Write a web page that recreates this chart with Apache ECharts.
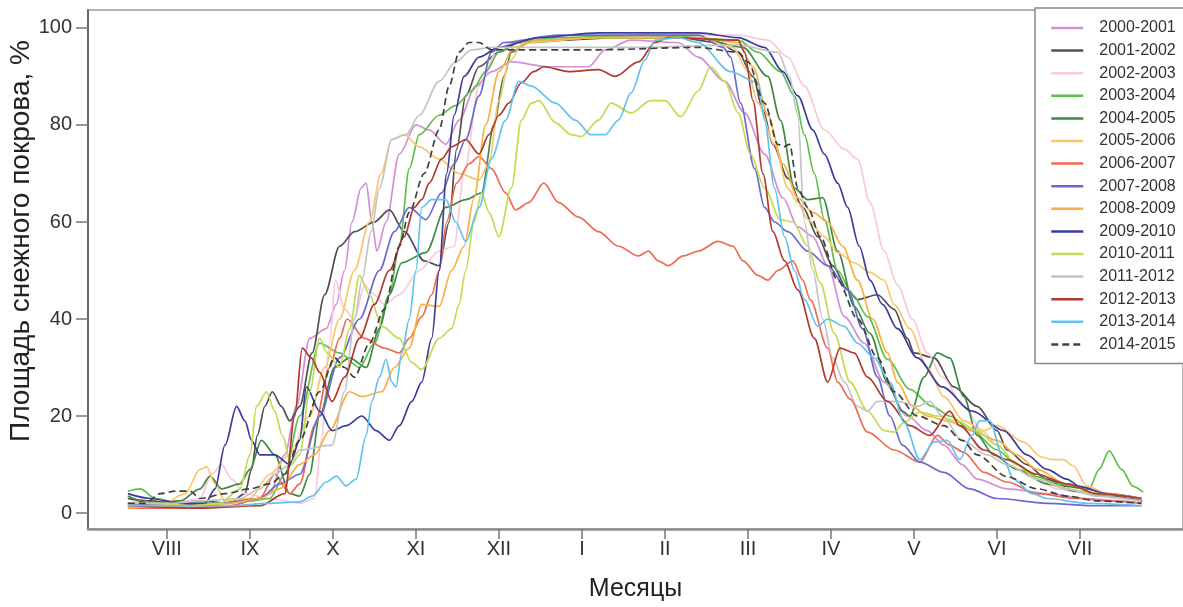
<!DOCTYPE html>
<html>
<head>
<meta charset="utf-8">
<script src="https://cdn.jsdelivr.net/npm/echarts@6/dist/echarts.min.js"></script>
<style>html,body{margin:0;padding:0;background:#fff;}#c{width:1183px;height:607px;}</style>
</head>
<body>
<div id="c"></div>
<script>
// x = month index (VIII = 0 ... VII = 11), y = snow cover area, %
const monthLabels = ['VIII','IX','X','XI','XII','I','II','III','IV','V','VI','VII'];
const monthTicks = [0,1,2,3,4,5,6,7,8,9,10,11];
const yTicks = [0,20,40,60,80,100];
const seasons = ['2000-2001','2001-2002','2002-2003','2003-2004','2004-2005','2005-2006','2006-2007','2007-2008','2008-2009','2009-2010','2010-2011','2011-2012','2012-2013','2013-2014','2014-2015'];

const s2000 = [[-0.47,3],[-0.20,2],[0.16,1.5],[0.64,2],[1.00,2.5],[1.24,4],[1.42,12],[1.56,22],[1.72,36],[1.92,38],[2.04,43],[2.14,50],[2.23,60],[2.34,67],[2.40,68],[2.47,60],[2.53,54],[2.64,60],[2.80,74],[3.00,80],[3.16,79],[3.36,76],[3.52,81],[3.72,88],[3.91,91],[4.15,93],[4.60,92],[5.08,92],[5.28,95.5],[5.59,97.5],[6.16,97],[6.40,94],[6.72,89],[6.96,82.5],[7.20,74],[7.42,65],[7.60,59],[7.78,57],[7.96,51],[8.16,40.5],[8.40,35],[8.64,27],[8.92,20],[9.16,17],[9.36,14],[9.58,10],[9.76,7],[10.12,5],[10.60,4],[11.08,3],[11.44,2.5],[11.74,2]];
const s2001 = [[-0.47,3],[-0.20,2.5],[0.10,2],[0.40,2.5],[0.76,2],[0.94,4],[1.02,9],[1.09,16],[1.18,22],[1.27,25],[1.38,22],[1.48,19],[1.60,22],[1.75,33],[1.90,45],[2.08,55],[2.26,58],[2.50,60],[2.68,62.5],[2.86,58],[3.10,52],[3.28,51],[3.40,60],[3.49,75],[3.60,86],[3.76,92],[4.00,95],[4.24,97],[4.72,97.5],[5.44,98],[6.16,98],[6.64,97],[6.88,95],[7.06,90],[7.18,83],[7.30,76],[7.48,69],[7.66,63],[7.84,57],[8.02,51],[8.20,46],[8.32,44],[8.56,45],[8.76,42],[8.92,36],[9.00,33],[9.24,32],[9.48,26],[9.76,22],[10.00,17],[10.12,13],[10.36,10],[10.60,7],[10.84,5.5],[11.08,5],[11.32,4],[11.74,3]];
const s2002 = [[-0.47,1.5],[0.04,2],[0.40,3],[0.54,8],[0.66,10],[0.78,7],[0.94,4],[1.24,3],[1.60,2],[1.78,3],[1.86,15],[1.96,35],[2.03,48],[2.14,42],[2.26,40],[2.38,47],[2.50,45],[2.62,43],[2.80,45],[3.04,50],[3.28,54],[3.46,55],[3.58,70],[3.76,88],[4.00,96],[4.24,97.5],[4.72,98],[5.80,98.5],[6.88,98.5],[7.24,97.5],[7.48,94],[7.68,88],[7.92,79],[8.16,75],[8.32,73],[8.47,64],[8.64,54],[8.80,47],[8.98,40],[9.16,33],[9.34,28],[9.60,22],[9.82,17],[10.00,14],[10.24,10],[10.48,7],[10.72,5],[11.08,4],[11.44,3],[11.74,2.5]];
const s2003 = [[-0.47,4.5],[-0.32,5],[-0.14,3],[0.16,2],[0.64,2],[1.00,2.5],[1.24,3],[1.42,8],[1.60,20],[1.84,35],[2.08,33],[2.32,30],[2.50,35],[2.68,45],[2.80,55],[2.92,71],[3.04,78],[3.28,82],[3.48,84],[3.67,87],[3.84,91],[4.00,95],[4.20,97],[4.72,98],[5.80,98.5],[6.88,97.5],[7.12,95],[7.39,91],[7.56,86],[7.68,78],[7.80,70],[7.92,60.5],[8.08,50],[8.26,45],[8.44,40.5],[8.68,31.7],[8.95,25.5],[9.22,22],[9.43,20],[9.70,17],[10.00,13],[10.24,10],[10.48,7.5],[10.72,6],[10.96,5.5],[11.11,5],[11.23,9],[11.35,12.8],[11.50,9],[11.64,5.5],[11.76,4.3]];
const s2004 = [[-0.47,3.5],[-0.20,2],[0.16,2.5],[0.40,5],[0.52,7.6],[0.66,5],[0.88,6],[1.00,9],[1.14,15],[1.30,12],[1.48,4],[1.60,3.5],[1.72,8],[1.84,20],[2.02,30],[2.20,32],[2.40,30],[2.56,38],[2.68,45],[2.83,51.6],[3.12,53.7],[3.36,63],[3.60,64.6],[3.79,66],[3.94,80],[4.06,90],[4.15,95],[4.36,97],[5.20,98],[6.40,98],[6.94,96],[7.24,90],[7.39,81],[7.56,67],[7.72,64.6],[7.90,65],[8.08,54],[8.28,42.6],[8.47,37],[8.68,27],[8.86,21],[8.95,20],[9.12,28],[9.28,33],[9.43,32],[9.60,24],[9.76,16],[9.96,12],[10.24,9],[10.60,6],[10.96,4.5],[11.32,3.5],[11.74,2.5]];
const s2005 = [[-0.47,1],[-0.08,1.5],[0.22,4],[0.40,9],[0.48,9.5],[0.58,6],[0.70,2.5],[1.00,3],[1.24,8],[1.48,12],[1.72,20],[1.90,30],[2.08,40],[2.26,50],[2.44,60],[2.58,70],[2.71,77],[2.86,78],[3.04,75.5],[3.28,73],[3.52,70],[3.76,68.7],[3.88,72],[4.00,85],[4.12,93],[4.30,97],[5.20,98],[6.40,98],[6.82,96],[7.00,91],[7.12,84.5],[7.32,76],[7.48,67],[7.60,64],[7.72,60.5],[7.92,57],[8.08,53.7],[8.28,51.6],[8.47,49.6],[8.64,48],[8.76,43],[8.95,38],[9.16,30],[9.36,24],[9.60,19],[9.84,17],[10.00,18],[10.32,14.6],[10.54,11.5],[10.68,11],[10.80,11],[10.92,9.7],[11.08,5.6],[11.32,4],[11.74,2.5]];
const s2006 = [[-0.47,1],[0.16,1],[0.76,1.5],[1.12,3],[1.30,8],[1.48,4],[1.60,6],[1.78,18],[1.96,30],[2.08,36],[2.17,40],[2.38,36],[2.62,34],[2.80,33],[2.92,36],[3.07,40.5],[3.19,45],[3.28,50],[3.37,60],[3.49,68],[3.64,72],[3.76,73.5],[3.91,71],[4.08,66],[4.20,62.5],[4.36,64],[4.54,68],[4.72,64],[4.96,61],[5.20,58],[5.44,55],[5.68,53],[5.80,54],[5.92,52],[6.04,51],[6.22,53],[6.40,54],[6.64,56],[6.82,55],[6.94,52],[7.12,49],[7.24,48],[7.36,50],[7.54,52],[7.66,48],[7.75,44],[7.96,34],[8.08,27],[8.23,23.5],[8.44,16.7],[8.76,13],[9.07,10.5],[9.28,16],[9.43,14],[9.60,12.5],[9.84,8.4],[10.12,6.4],[10.48,4],[10.96,3],[11.32,2.5],[11.74,2]];
const s2007 = [[-0.47,2],[0.04,1.5],[0.64,2],[1.12,3],[1.36,6],[1.60,8],[1.84,20],[2.08,32],[2.32,40],[2.56,50],[2.74,58],[2.92,63],[3.12,60.5],[3.31,66],[3.46,72],[3.60,77],[3.76,86],[3.91,95],[4.06,97],[4.72,98.5],[6.40,98.5],[6.70,96],[6.79,94],[6.91,84.5],[7.08,71],[7.20,63],[7.32,60],[7.48,58],[7.72,54],[7.96,51],[8.20,46],[8.38,38],[8.56,28],[8.71,20],[8.86,14],[9.07,10.5],[9.36,8.4],[9.67,5],[10.00,3],[10.60,2],[11.20,1.5],[11.74,1.5]];
const s2008 = [[-0.47,1],[0.16,1.5],[0.76,2],[1.12,3],[1.36,5],[1.60,10],[1.78,12],[1.96,17],[2.20,25],[2.35,24],[2.59,25],[2.74,30],[2.92,34],[3.07,43],[3.28,42.6],[3.43,50],[3.58,55],[3.70,65],[3.84,80],[4.00,91],[4.18,96],[4.48,97.5],[5.20,98],[6.40,98],[6.88,97],[7.06,92],[7.24,82],[7.42,72],[7.60,65],[7.78,62],[7.96,60],[8.14,55],[8.32,48],[8.50,40],[8.68,33],[8.80,27],[8.98,22],[9.16,20],[9.40,19],[9.70,17],[10.00,15],[10.24,12],[10.48,9],[10.84,6],[11.20,4],[11.74,3]];
const s2009 = [[-0.47,4],[-0.20,3],[0.16,2],[0.46,2],[0.58,5],[0.70,14],[0.84,22],[0.94,19],[1.02,15],[1.12,12],[1.30,12],[1.48,10],[1.60,15],[1.68,26],[1.84,21],[1.99,17],[2.16,18],[2.35,20],[2.52,17],[2.68,15],[2.80,18],[2.95,23],[3.07,27],[3.19,36],[3.28,50],[3.37,70],[3.46,82],[3.58,90],[3.76,94],[4.00,96],[4.48,98],[5.20,99],[6.40,99],[6.88,98],[7.20,96],[7.42,91],[7.60,86],[7.78,79],[7.92,74],[8.08,68],[8.20,63],[8.34,55],[8.47,48],[8.62,43],[8.80,38],[9.04,32],[9.34,26],[9.70,21],[10.08,17],[10.36,12],[10.60,9],[10.84,7],[10.99,5.5],[11.32,4],[11.59,3],[11.75,2.5]];
const s2010 = [[-0.47,2],[-0.08,2],[0.28,1.5],[0.64,2],[0.88,5],[1.00,12],[1.08,22],[1.20,25],[1.30,21],[1.39,16],[1.50,10],[1.60,12],[1.72,25],[1.84,36],[1.93,33],[2.08,30],[2.20,38],[2.32,49],[2.44,45],[2.59,38.5],[2.80,36],[2.95,31],[3.07,29.6],[3.28,36],[3.43,38],[3.52,43],[3.60,50],[3.70,60],[3.79,66],[3.88,62],[4.00,57],[4.15,67],[4.27,81],[4.39,84.5],[4.48,85],[4.68,80.5],[4.87,78],[4.99,77.6],[5.20,81],[5.35,84.5],[5.59,82.5],[5.83,85],[6.00,85],[6.19,81.7],[6.40,87],[6.55,92],[6.72,89],[6.88,82.5],[7.03,74],[7.20,67],[7.39,60.5],[7.54,60],[7.72,55],[7.87,47.5],[8.04,37],[8.23,27],[8.44,21],[8.64,17],[8.76,16.7],[8.88,18.7],[9.07,20.8],[9.28,20],[9.52,19],[9.76,17],[10.00,14],[10.24,10],[10.48,7],[10.84,5],[11.20,4],[11.74,3]];
const s2011 = [[-0.47,2],[0.04,2],[0.40,2.5],[0.88,3],[1.12,5],[1.30,8],[1.48,10],[1.60,13],[1.99,14],[2.14,25],[2.26,40],[2.35,48],[2.46,58],[2.56,67],[2.71,77],[2.88,78],[3.04,82],[3.28,89],[3.48,93],[3.67,95.5],[3.91,96],[4.48,96],[5.68,96],[6.88,96.5],[7.36,95],[7.50,90],[7.60,82],[7.68,60],[7.78,50],[7.90,40],[8.02,32],[8.16,27],[8.32,22],[8.44,21],[8.56,23],[8.80,23],[9.04,22],[9.19,23],[9.34,20],[9.58,15],[9.88,12],[10.12,10],[10.48,7],[10.84,5],[11.20,3.5],[11.74,2.5]];
const s2012 = [[-0.47,1.5],[0.40,1],[1.12,1.5],[1.42,4],[1.54,20],[1.63,34],[1.74,32],[1.84,29],[1.99,23],[2.14,28],[2.32,36],[2.50,43],[2.68,50],[2.86,57],[2.98,63],[3.07,64.6],[3.16,68],[3.31,73],[3.43,75.5],[3.60,77],[3.76,74],[3.88,78],[4.00,82],[4.12,84.5],[4.27,88.7],[4.42,91],[4.54,92],[4.84,91],[5.20,91.4],[5.40,90],[5.68,93],[5.88,97],[6.04,98],[6.88,97.5],[6.96,95],[7.06,85],[7.18,70],[7.30,58],[7.44,52],[7.60,46],[7.80,36],[7.96,27],[8.11,34],[8.28,33],[8.44,28],[8.68,23],[8.95,18],[9.19,16],[9.43,21],[9.55,18],[9.84,13],[10.12,11],[10.48,8],[10.84,6],[11.20,4],[11.74,3]];
const s2013 = [[-0.47,1.5],[0.04,1.5],[0.76,1.5],[1.21,2],[1.60,2.3],[1.75,3.5],[1.92,6.4],[2.04,7.6],[2.16,5.6],[2.28,7],[2.40,16],[2.47,23],[2.56,28],[2.64,31.7],[2.71,27],[2.76,26],[2.83,33],[2.92,40],[3.00,50],[3.07,63],[3.19,64.6],[3.36,64.6],[3.48,60],[3.60,56],[3.76,63],[3.91,73],[4.08,81],[4.24,89],[4.39,88],[4.68,84.5],[4.92,81],[5.11,78],[5.28,78],[5.44,81],[5.59,86.6],[5.76,93.4],[5.88,97.5],[6.16,98],[6.40,97],[6.79,91],[7.12,88.7],[7.20,81],[7.32,67],[7.44,57],[7.56,50],[7.68,44],[7.84,38.5],[7.96,40],[8.16,38.5],[8.32,35],[8.52,32],[8.71,27],[8.88,18.7],[9.07,11],[9.24,14.6],[9.40,15],[9.55,11],[9.70,16],[9.79,19],[9.91,19],[10.08,11],[10.20,7],[10.42,4],[10.60,3],[11.08,2],[11.74,1.5]];
const s2014 = [[-0.47,2],[-0.26,2],[-0.08,4],[0.10,4.5],[0.28,4.5],[0.40,3],[0.70,4],[1.00,5],[1.24,6],[1.42,8],[1.60,15],[1.84,25],[2.02,32],[2.14,30],[2.26,28],[2.44,35],[2.62,42],[2.80,55],[2.92,62],[3.10,70],[3.28,79],[3.40,88],[3.52,95],[3.64,97],[3.76,97],[3.91,95.5],[4.24,95.5],[5.20,95.5],[6.40,96],[6.88,95],[7.00,93],[7.20,84.5],[7.36,76],[7.43,75.5],[7.50,76],[7.60,67],[7.72,63],[7.87,57],[8.08,48],[8.32,40],[8.56,32],[8.76,25],[9.04,20],[9.36,18],[9.58,15],[9.76,12],[10.12,7.5],[10.48,5],[10.84,3.5],[11.20,2.5],[11.74,2]];

const seriesData = [s2000,s2001,s2002,s2003,s2004,s2005,s2006,s2007,s2008,s2009,s2010,s2011,s2012,s2013,s2014];
const colors = ['#d38fd6','#505050','#f9c9d9','#5cc04a','#3d8a45','#fbc66b','#ee6a50','#6a6ad0','#f8b040','#3c3c9c','#c2dc50','#c4c4c4','#b2392e','#63c3f0','#404040'];

const FONT = "'Liberation Sans', Arial, sans-serif";
const chart = echarts.init(document.getElementById('c'), null, {renderer: 'canvas'});
chart.setOption({
  animation: false,
  backgroundColor: '#ffffff',
  grid: {left: 88, right: -3, top: 10, bottom: 77, show: true, borderColor: '#9a9a9a', borderWidth: 1.5, backgroundColor: 'transparent'},
  xAxis: {
    type: 'value', min: -0.95, max: 12.24,
    axisLine: {show: true, onZero: false, lineStyle: {color: '#8f8f8f', width: 2.5}},
    axisTick: {show: true, customValues: monthTicks, length: 10, lineStyle: {color: '#777', width: 1.5}},
    axisLabel: {customValues: monthTicks, formatter: v => monthLabels[Math.round(v)], fontSize: 20, color: '#333', margin: 10, fontFamily: FONT},
    splitLine: {show: false},
    name: 'Месяцы', nameLocation: 'middle', nameGap: 48,
    nameTextStyle: {fontSize: 25, color: '#222', fontFamily: FONT}
  },
  yAxis: {
    type: 'value', min: -3.29, max: 103.7,
    axisLine: {show: true, onZero: false, lineStyle: {color: '#666', width: 2}},
    axisTick: {show: true, customValues: yTicks, length: 12, lineStyle: {color: '#777', width: 1.5}},
    axisLabel: {customValues: yTicks, fontSize: 20, color: '#333', margin: 16, fontFamily: FONT},
    splitLine: {show: false}
  },
  legend: {
    orient: 'vertical', left: 1035, top: 8,
    itemWidth: 32, itemHeight: 14, itemGap: 6.6,
    padding: [12, 12, 11, 15],
    backgroundColor: '#fff', borderColor: '#888', borderWidth: 1.5,
    lineStyle: {width: 2.5},
    itemStyle: {opacity: 0},
    textStyle: {fontSize: 16, color: '#333', fontFamily: FONT, padding: [0, 0, 0, 11]},
    data: seasons
  },
  graphic: [{
    type: 'text', x: 21, y: 241, rotation: Math.PI / 2,
    style: {text: 'Площадь снежного покрова, %', fontSize: 28, fontFamily: FONT, fill: '#222', align: 'center', verticalAlign: 'middle'}
  }],
  series: seasons.map((name, i) => ({
    name: name, type: 'line', data: seriesData[i],
    symbol: 'none', showSymbol: false, smooth: 0.3, smoothMonotone: 'x',
    color: colors[i],
    lineStyle: {width: 1.7, color: colors[i], type: i === 14 ? [7, 4] : 'solid'},
    z: 2 + i
  }))
});
</script>
</body>
</html>
